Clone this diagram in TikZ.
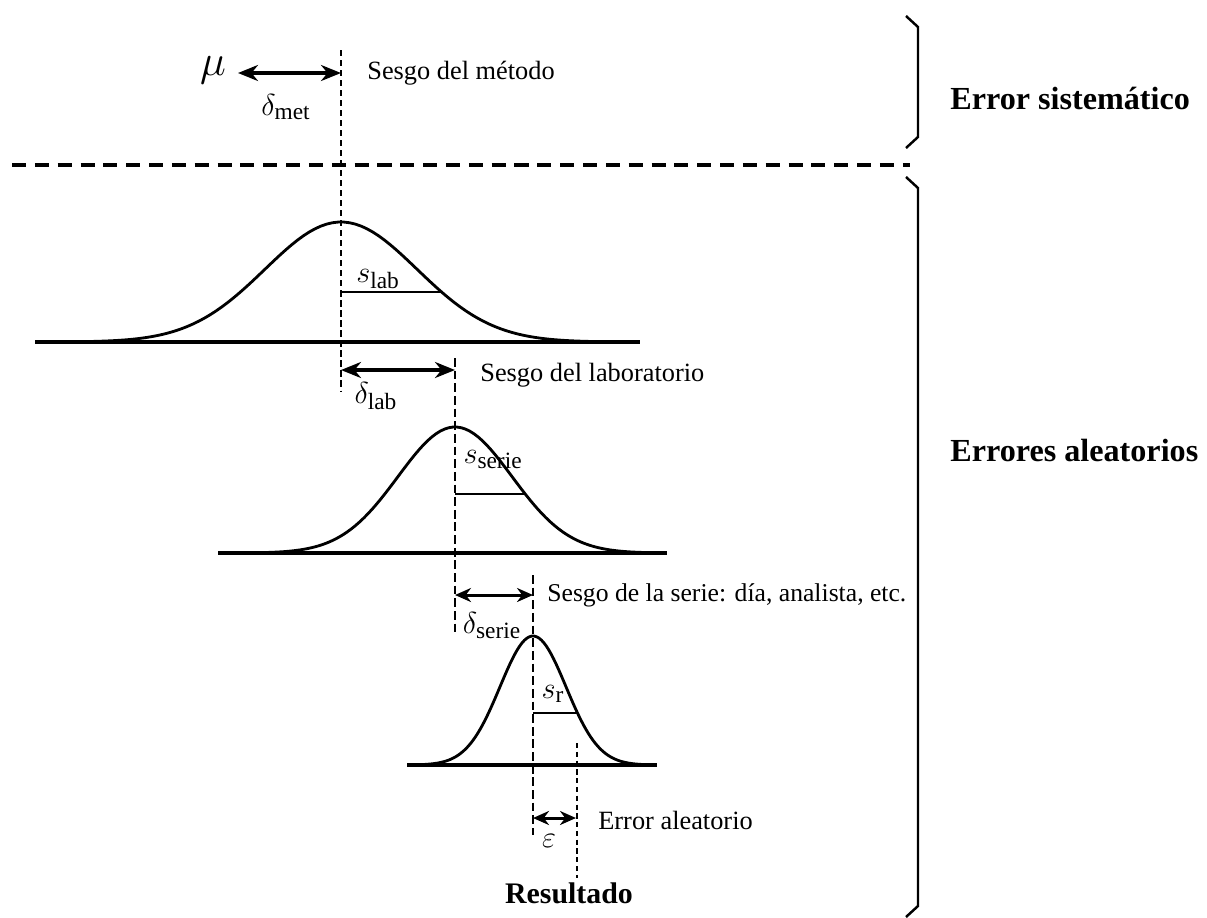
\documentclass[tikz,border=0pt]{standalone}
\usepackage{fontspec}
\setmainfont{Liberation Serif}
\usetikzlibrary{positioning,arrows.meta}
\tikzset{
  curve-gauss/.style={line width=1.6pt,line join=round},
  axis-base/.style={line width=1.8pt},
  line-sigma/.style={line width=1.6pt},
  line-mean/.style={line width=1pt,dash pattern=on 3.5pt off 2.2pt},
  line-bias/.style={line width=1.6pt,dash pattern=on 5pt off 2.2pt},
  line-result/.style={line width=1pt,dash pattern=on 3pt off 2pt},
  line-sep/.style={line width=2.2pt,dash pattern=on 8pt off 5pt},
  bracket/.style={line width=1.4pt},
  arrow-bias/.style={{Stealth[length=4mm,width=3.2mm]}-{Stealth[length=4mm,width=3.2mm]},line width=1.9pt},
  arrow-small/.style={{Stealth[length=3.2mm,width=2.8mm]}-{Stealth[length=3.2mm,width=2.8mm]},line width=1.7pt},
  label-txt/.style={anchor=west,inner sep=0pt,font=\fontsize{15}{17}\selectfont},
  label-sum/.style={anchor=west,inner sep=0pt,font=\bfseries\fontsize{18.3}{21}\selectfont},
  label-math/.style={inner sep=0pt,font=\fontsize{19}{21}\selectfont},
}

\begin{document}
\begin{tikzpicture}[x=0.02cm,y=-0.02cm]
  \useasboundingbox (0,0) rectangle (1207,917);

  % sesgo del metodo
  \node[inner sep=0pt,font=\fontsize{27}{29}\selectfont] (mu) at (213,70) {$\mu$};
  \coordinate (mu-r) at (238,73);
  \coordinate (met-top) at (341,50);
  \coordinate (met-bot) at (341,392);
  \coordinate (met-arr) at (341,73);
  \draw[line-mean] (met-top) -- (met-bot);
  \draw[arrow-bias] (mu-r) -- (met-arr);
  \node[label-math] (d-met) at (286,107) {$\delta_{\mathrm{met}}$};
  \node[label-txt] (t-met) at (367,73) {Sesgo del método};

  % separador y llaves
  \coordinate (sep-l) at (12,165);
  \coordinate (sep-r) at (910,165);
  \draw[line-sep] (sep-l) -- (sep-r);
  \draw[bracket] (906,16) -- (918,27) -- (918,137) -- (906,148);
  \draw[bracket] (906,177) -- (918,188) -- (918,906) -- (906,917);
  \node[label-sum] (t-sis) at (950,98) {Error sistemático};
  \node[label-sum] (t-ale) at (950,450) {Errores aleatorios};

  % distribucion del metodo (laboratorios)
  \coordinate (b1-l) at (35,342);
  \coordinate (b1-r) at (640,342);
  \draw[axis-base] (b1-l) -- (b1-r);
  \draw[curve-gauss] plot[domain=-3.4:3.4,samples=90]
    ({341+76*\x},{342-120*exp(-0.5*(\x)*(\x))});
  \coordinate (s1-a) at (341,292);
  \coordinate (s1-b) at (441,292);
  \draw[line-sigma] (s1-a) -- (s1-b);
  \node[label-math] (s-lab) at (378,279) {$s_{\mathrm{lab}}$};

  % sesgo del laboratorio
  \coordinate (lab-top) at (455,358);
  \coordinate (lab-bot) at (455,636);
  \coordinate (lab-arr-l) at (341,370);
  \coordinate (lab-arr-r) at (455,370);
  \draw[line-bias] (lab-top) -- (lab-bot);
  \draw[arrow-bias] (lab-arr-l) -- (lab-arr-r);
  \node[label-math] (d-lab) at (376,396) {$\delta_{\mathrm{lab}}$};
  \node[label-txt] (t-lab) at (480,375) {Sesgo del laboratorio};

  % distribucion del laboratorio (series)
  \coordinate (b2-l) at (218,553);
  \coordinate (b2-r) at (667,553);
  \draw[axis-base] (b2-l) -- (b2-r);
  \draw[curve-gauss] plot[domain=-3.3:3.3,samples=90]
    ({455+57*\x},{553-126*exp(-0.5*(\x)*(\x))});
  \coordinate (s2-a) at (455,494);
  \coordinate (s2-b) at (525,494);
  \draw[line-sigma] (s2-a) -- (s2-b);
  \node[label-math] (s-serie) at (493,460) {$s_{\mathrm{serie}}$};

  % sesgo de la serie
  \coordinate (ser-top) at (533,575);
  \coordinate (ser-bot) at (533,835);
  \coordinate (ser-arr-l) at (455,595);
  \coordinate (ser-arr-r) at (533,595);
  \draw[line-bias] (ser-top) -- (ser-bot);
  \draw[arrow-small] (ser-arr-l) -- (ser-arr-r);
  \node[label-math] (d-serie) at (492,626) {$\delta_{\mathrm{serie}}$};
  \node[label-txt,font=\fontsize{14.6}{17}\selectfont] (t-serie) at (547,595) {Sesgo de la serie: día, analista, etc.};

  % distribucion de la serie (repetibilidad)
  \coordinate (b3-l) at (407,765);
  \coordinate (b3-r) at (657,765);
  \draw[axis-base] (b3-l) -- (b3-r);
  \draw[curve-gauss] plot[domain=-3.3:3.3,samples=90]
    ({533+33*\x},{765-129*exp(-0.5*(\x)*(\x))});
  \coordinate (s3-a) at (533,713);
  \coordinate (s3-b) at (578,713);
  \draw[line-sigma] (s3-a) -- (s3-b);
  \node[label-math] (s-r) at (553,694) {$s_{\mathrm{r}}$};

  % error aleatorio y resultado
  \coordinate (res-top) at (577,743);
  \coordinate (res-bot) at (577,878);
  \coordinate (eps-l) at (533,818);
  \coordinate (eps-r) at (576,818);
  \draw[line-result] (res-top) -- (res-bot);
  \draw[arrow-small] (eps-l) -- (eps-r);
  \node[label-math] (eps) at (549,841) {$\varepsilon$};
  \node[label-txt] (t-eps) at (598,820) {Error aleatorio};
  \node[label-sum,anchor=center,font=\bfseries\fontsize{17}{20}\selectfont] (t-res) at (569,893) {Resultado};
\end{tikzpicture}
\end{document}
